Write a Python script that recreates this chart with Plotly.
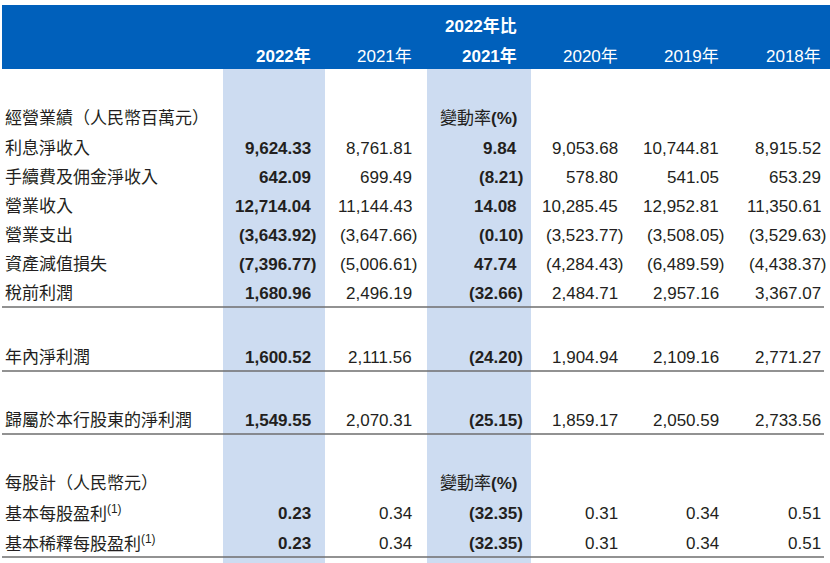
import plotly.graph_objects as go

# ---------------- data ----------------
row_labels = ["利息淨收入", "手續費及佣金淨收入", "營業收入", "營業支出", "資產減值損失",
              "稅前利潤", "年內淨利潤", "歸屬於本行股東的淨利潤",
              "基本每股盈利<sup>(1)</sup>", "基本稀釋每股盈利<sup>(1)</sup>"]
section_labels = ["經營業績（人民幣百萬元）", "每股計（人民幣元）"]
change_label = "變動率<b>(%)</b>"
col_headers = ["2022年", "2021年", "2021年", "2020年", "2019年", "2018年"]
change_top_header = "2022年比"

v2022 = [9624.33, 642.09, 12714.04, -3643.92, -7396.77, 1680.96, 1600.52, 1549.55, 0.23, 0.23]
v2021 = [8761.81, 699.49, 11144.43, -3647.66, -5006.61, 2496.19, 2111.56, 2070.31, 0.34, 0.34]
change = [9.84, -8.21, 14.08, -0.10, 47.74, -32.66, -24.20, -25.15, -32.35, -32.35]
v2020 = [9053.68, 578.80, 10285.45, -3523.77, -4284.43, 2484.71, 1904.94, 1859.17, 0.31, 0.31]
v2019 = [10744.81, 541.05, 12952.81, -3508.05, -6489.59, 2957.16, 2109.16, 2050.59, 0.34, 0.34]
v2018 = [8915.52, 653.29, 11350.61, -3529.63, -4438.37, 3367.07, 2771.27, 2733.56, 0.51, 0.51]

columns = [v2022, v2021, change, v2020, v2019, v2018]
bold_cols = [True, False, True, False, False, False]

# ---------------- layout / styles ----------------
W, H = 830, 563
FONT = "Liberation Sans, Arial, Noto Sans CJK TC, sans-serif"
FS = 17
TXT = "#231f20"
BLUE = "#0060bb"
BAND = "#cddcf1"
RULE = "#6e6e6e"
col_right = [313, 414, 519, 620, 721, 823]
paren_w = 5.7
row_y = [148, 177, 206, 235, 264, 293, 357, 420, 513, 543]
section_y = [118, 483]
rules_y = [307, 371, 434, 557]
header_y1, header_y2 = 26, 56


def fmt(v):
    s = f"{abs(v):,.2f}"
    return f"({s})" if v < 0 else s


fig = go.Figure()
fig.add_trace(go.Scatter(x=[0, W], y=[0, H], mode="markers",
                         marker=dict(opacity=0), hoverinfo="skip", showlegend=False))

shapes = []
# header band
shapes.append(dict(type="rect", xref="x", yref="y", x0=2, x1=W, y0=5, y1=69,
                   fillcolor=BLUE, line=dict(width=0), layer="below"))
# highlighted columns
for x0, x1 in [(223, 325), (427, 531)]:
    shapes.append(dict(type="rect", xref="x", yref="y", x0=x0, x1=x1, y0=69, y1=H,
                       fillcolor=BAND, line=dict(width=0), layer="below"))
for yy in rules_y:
    shapes.append(dict(type="line", xref="x", yref="y", x0=2, x1=824, y0=yy, y1=yy,
                       line=dict(color=RULE, width=1.6)))

ann = []


def add(text, x, y, anchor="right", color=TXT, bold=False, size=FS):
    ann.append(dict(text=(f"<b>{text}</b>" if bold else text), x=x, y=y, xref="x", yref="y",
                    xanchor=anchor, yanchor="middle", showarrow=False,
                    font=dict(family=FONT, size=size, color=color)))


# header texts
add(change_top_header, col_right[2], header_y1, color="white", bold=True)
for i, h in enumerate(col_headers):
    add(h, col_right[i], header_y2, color="white", bold=bold_cols[i])

# sections
for lbl, yy in zip(section_labels, section_y):
    add(lbl, 3, yy, anchor="left")
    add(change_label, col_right[2], yy)

# rows
for r, (lbl, yy) in enumerate(zip(row_labels, row_y)):
    add(lbl, 3, yy, anchor="left")
    for c, col in enumerate(columns):
        v = col[r]
        x = col_right[c] + (paren_w if v < 0 else 0)
        add(fmt(v), x, yy, bold=bold_cols[c])

fig.update_layout(
    width=W, height=H, margin=dict(l=0, r=0, t=0, b=0),
    paper_bgcolor="white", plot_bgcolor="white",
    xaxis=dict(range=[0, W], visible=False, fixedrange=True),
    yaxis=dict(range=[H, 0], visible=False, fixedrange=True),
    shapes=shapes, annotations=ann, showlegend=False,
)
fig.write_html("out.html", config=dict(displayModeBar=False))

# remove default page margins so the figure sits at the window's top-left corner
with open("out.html", encoding="utf-8") as f:
    html = f.read()
html = html.replace("<body>", '<body style="margin:0;padding:0;overflow:hidden">', 1)
with open("out.html", "w", encoding="utf-8") as f:
    f.write(html)
